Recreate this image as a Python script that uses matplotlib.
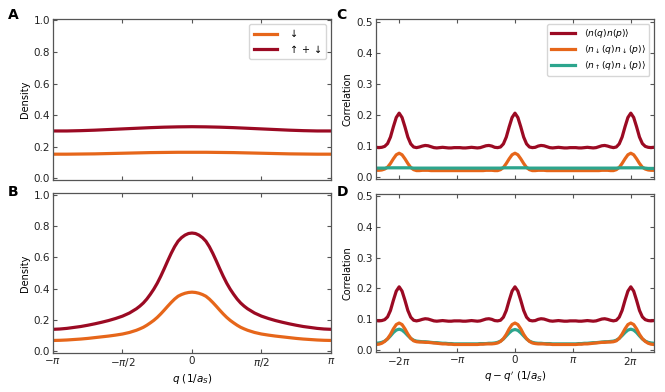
import numpy as np
import matplotlib
matplotlib.use("Agg")
import matplotlib.pyplot as plt

RED = "#9b0a23"
ORANGE = "#e6661a"
TEAL = "#2ca58d"

# ---- density panels (q in units of pi) ----
q_a = np.linspace(-1, 1, 21)
dens_a_down = [0.153, 0.153, 0.154, 0.155, 0.157, 0.159, 0.161, 0.163, 0.164, 0.165, 0.165,
               0.165, 0.164, 0.163, 0.161, 0.159, 0.157, 0.155, 0.154, 0.153, 0.153]
dens_a_total = [0.300, 0.300, 0.302, 0.305, 0.309, 0.313, 0.317, 0.321, 0.324, 0.326, 0.327,
                0.326, 0.324, 0.321, 0.317, 0.313, 0.309, 0.305, 0.302, 0.300, 0.300]

# finer sampling near the peak
q_b = np.concatenate([np.linspace(-1, -0.45, 12), np.linspace(-0.4, 0.4, 33),
                      np.linspace(0.45, 1, 12)])
dens_b_total = [0.141, 0.143, 0.147, 0.153, 0.159, 0.167, 0.176, 0.186, 0.197, 0.210,
                0.225, 0.245,
                0.272, 0.289, 0.309, 0.334, 0.364, 0.397, 0.435, 0.479, 0.527, 0.577,
                0.625, 0.668, 0.703, 0.726, 0.742, 0.752, 0.755, 0.752, 0.742, 0.726,
                0.703, 0.668, 0.625, 0.577, 0.527, 0.479, 0.435, 0.397, 0.364, 0.334,
                0.309, 0.289, 0.272,
                0.245, 0.225, 0.210, 0.197, 0.186, 0.176, 0.167, 0.159, 0.153, 0.147,
                0.143, 0.141]
dens_b_down = [0.070, 0.071, 0.073, 0.076, 0.079, 0.083, 0.088, 0.093, 0.098, 0.104,
               0.111, 0.121,
               0.135, 0.144, 0.154, 0.167, 0.182, 0.198, 0.217, 0.239, 0.263, 0.288,
               0.312, 0.334, 0.352, 0.363, 0.371, 0.376, 0.378, 0.376, 0.371, 0.363,
               0.352, 0.334, 0.312, 0.288, 0.263, 0.239, 0.217, 0.198, 0.182, 0.167,
               0.154, 0.144, 0.135,
               0.121, 0.111, 0.104, 0.098, 0.093, 0.088, 0.083, 0.079, 0.076, 0.073,
               0.071, 0.070]

# ---- correlation panels (q - q' in units of pi) ----
dq = np.linspace(-2.4, 2.4, 97)
corr_c_total = [0.095, 0.094, 0.095, 0.098, 0.107, 0.128, 0.161, 0.191, 0.205,
                0.191, 0.161, 0.128, 0.106, 0.096, 0.094, 0.096, 0.099, 0.101, 0.100, 0.097,
                0.094, 0.093, 0.094, 0.095, 0.094, 0.093, 0.093, 0.094, 0.094, 0.094,
                0.093, 0.093, 0.094, 0.095, 0.094, 0.093, 0.094, 0.097,
                0.100, 0.101, 0.099, 0.095, 0.094, 0.096, 0.106, 0.128, 0.161, 0.191, 0.205,
                0.191, 0.161, 0.128, 0.106, 0.096, 0.094, 0.095, 0.099, 0.101, 0.100,
                0.097, 0.094, 0.093, 0.094, 0.095, 0.094, 0.093, 0.093, 0.094, 0.094,
                0.094, 0.093, 0.093, 0.094, 0.095, 0.094, 0.093, 0.094, 0.097, 0.100,
                0.101, 0.099, 0.096, 0.094, 0.096, 0.106, 0.128, 0.161, 0.191, 0.205,
                0.191, 0.161, 0.128, 0.107, 0.098, 0.095, 0.094, 0.095]
corr_c_down = [0.021, 0.021, 0.022, 0.025, 0.031, 0.043, 0.058, 0.071, 0.076,
               0.071, 0.058, 0.043, 0.030, 0.023, 0.020, 0.020, 0.021, 0.021, 0.021, 0.020,
               0.020, 0.020, 0.020, 0.020, 0.020, 0.020, 0.020, 0.020, 0.020,
               0.020, 0.020, 0.020, 0.020, 0.020, 0.020, 0.020, 0.020, 0.020,
               0.021, 0.021, 0.021, 0.020, 0.020, 0.023, 0.030, 0.043, 0.058, 0.071, 0.076,
               0.071, 0.058, 0.043, 0.030, 0.023, 0.020, 0.020, 0.021, 0.021, 0.021,
               0.020, 0.020, 0.020, 0.020, 0.020, 0.020, 0.020, 0.020, 0.020,
               0.020, 0.020, 0.020, 0.020, 0.020, 0.020, 0.020, 0.020, 0.020,
               0.020, 0.021, 0.021, 0.021, 0.020, 0.020, 0.023, 0.030, 0.043, 0.058, 0.071,
               0.076, 0.071, 0.058, 0.043, 0.031, 0.025, 0.022, 0.021, 0.021]
corr_c_updown = [0.028, 0.028, 0.028, 0.028, 0.029, 0.029, 0.029, 0.029, 0.029,
                 0.029, 0.029, 0.029, 0.029, 0.028, 0.028, 0.028, 0.028, 0.028, 0.028, 0.028,
                 0.028, 0.028, 0.028, 0.028, 0.028, 0.028, 0.028, 0.028, 0.028,
                 0.028, 0.028, 0.028, 0.028, 0.028, 0.028, 0.028, 0.028, 0.028,
                 0.028, 0.028, 0.028, 0.028, 0.028, 0.028, 0.029, 0.029, 0.029, 0.029, 0.029,
                 0.029, 0.029, 0.029, 0.029, 0.028, 0.028, 0.028, 0.028, 0.028, 0.028,
                 0.028, 0.028, 0.028, 0.028, 0.028, 0.028, 0.028, 0.028, 0.028,
                 0.028, 0.028, 0.028, 0.028, 0.028, 0.028, 0.028, 0.028, 0.028,
                 0.028, 0.028, 0.028, 0.028, 0.028, 0.028, 0.028, 0.029, 0.029, 0.029, 0.029,
                 0.029, 0.029, 0.029, 0.029, 0.029, 0.028, 0.027, 0.027, 0.027]

corr_d_total = [0.095, 0.094, 0.095, 0.098, 0.107, 0.128, 0.161, 0.191, 0.205,
                0.191, 0.161, 0.128, 0.106, 0.096, 0.094, 0.096, 0.099, 0.101, 0.100, 0.097,
                0.094, 0.093, 0.094, 0.095, 0.094, 0.093, 0.093, 0.094, 0.094, 0.094,
                0.093, 0.093, 0.094, 0.095, 0.094, 0.093, 0.094, 0.097,
                0.100, 0.101, 0.099, 0.095, 0.094, 0.096, 0.106, 0.128, 0.161, 0.191, 0.205,
                0.191, 0.161, 0.128, 0.106, 0.096, 0.094, 0.095, 0.099, 0.101, 0.100,
                0.097, 0.094, 0.093, 0.094, 0.095, 0.094, 0.093, 0.093, 0.094, 0.094,
                0.094, 0.093, 0.093, 0.094, 0.095, 0.094, 0.093, 0.094, 0.097, 0.100,
                0.101, 0.099, 0.096, 0.094, 0.096, 0.106, 0.128, 0.161, 0.191, 0.205,
                0.191, 0.161, 0.128, 0.107, 0.098, 0.095, 0.094, 0.095]
corr_d_down = [0.017, 0.018, 0.021, 0.027, 0.036, 0.050, 0.068, 0.082, 0.087,
               0.082, 0.068, 0.051, 0.037, 0.029, 0.026, 0.025, 0.025, 0.024, 0.024, 0.023,
               0.022, 0.021, 0.020, 0.019, 0.019, 0.018, 0.018, 0.017, 0.017,
               0.017, 0.017, 0.017, 0.017, 0.017, 0.017, 0.017, 0.018, 0.018,
               0.019, 0.019, 0.019, 0.020, 0.022, 0.027, 0.036, 0.050, 0.068, 0.082, 0.087,
               0.082, 0.068, 0.050, 0.036, 0.027, 0.022, 0.020, 0.019, 0.019, 0.019,
               0.018, 0.018, 0.017, 0.017, 0.017, 0.017, 0.017, 0.017, 0.017,
               0.017, 0.017, 0.018, 0.018, 0.019, 0.019, 0.020, 0.021, 0.022,
               0.023, 0.024, 0.024, 0.025, 0.025, 0.026, 0.029, 0.037, 0.051, 0.068, 0.082,
               0.087, 0.082, 0.068, 0.050, 0.036, 0.027, 0.021, 0.018, 0.017]
corr_d_updown = [0.021, 0.022, 0.024, 0.028, 0.035, 0.045, 0.056, 0.064, 0.067,
                 0.064, 0.056, 0.046, 0.037, 0.031, 0.028, 0.027, 0.026, 0.026, 0.025, 0.024,
                 0.023, 0.023, 0.022, 0.021, 0.021, 0.020, 0.020, 0.019, 0.019,
                 0.019, 0.019, 0.019, 0.019, 0.019, 0.019, 0.019, 0.020, 0.020,
                 0.020, 0.021, 0.021, 0.022, 0.024, 0.028, 0.035, 0.045, 0.055, 0.063, 0.066,
                 0.063, 0.055, 0.045, 0.035, 0.028, 0.024, 0.022, 0.021, 0.021, 0.020,
                 0.020, 0.020, 0.019, 0.019, 0.019, 0.019, 0.019, 0.019, 0.019,
                 0.019, 0.019, 0.020, 0.020, 0.021, 0.021, 0.022, 0.023, 0.023,
                 0.024, 0.025, 0.026, 0.026, 0.027, 0.028, 0.031, 0.037, 0.046, 0.056, 0.064,
                 0.067, 0.064, 0.056, 0.045, 0.035, 0.028, 0.024, 0.022, 0.021]

LW = 2.3

plt.rcParams["font.size"] = 7.5
plt.rcParams["axes.edgecolor"] = "#555555"
plt.rcParams["xtick.color"] = "#555555"
plt.rcParams["ytick.color"] = "#555555"
plt.rcParams["xtick.labelcolor"] = "#222222"
plt.rcParams["ytick.labelcolor"] = "#222222"
plt.rcParams["lines.solid_joinstyle"] = "round"

fig = plt.figure(figsize=(6.65, 3.92), dpi=100)
ax_a = fig.add_axes([0.0797, 0.541, 0.418, 0.411])
ax_b = fig.add_axes([0.0797, 0.0995, 0.418, 0.408])
ax_c = fig.add_axes([0.5654, 0.543, 0.418, 0.408])
ax_d = fig.add_axes([0.5654, 0.102, 0.418, 0.403])


def style(ax):
    ax.tick_params(direction="in", top=True, right=True, length=3, width=0.8,
                   labelsize=7.5, pad=2)
    for s in ax.spines.values():
        s.set_linewidth(0.9)


# A
ax_a.plot(q_a * np.pi, dens_a_down, color=ORANGE, lw=LW, label=r"$\downarrow$")
ax_a.plot(q_a * np.pi, dens_a_total, color=RED, lw=LW, label=r"$\uparrow + \downarrow$")
# B
ax_b.plot(q_b * np.pi, dens_b_down, color=ORANGE, lw=LW)
ax_b.plot(q_b * np.pi, dens_b_total, color=RED, lw=LW)

pi_ticks = [-np.pi, -np.pi / 2, 0, np.pi / 2, np.pi]
pi_labels = [r"$-\pi$", r"$-\pi/2$", "0", r"$\pi/2$", r"$\pi$"]
for ax in (ax_a, ax_b):
    style(ax)
    ax.set_xlim(-np.pi, np.pi)
    ax.set_ylim(-0.01, 1.01)
    ax.set_xticks(pi_ticks)
    ax.set_yticks([0, 0.2, 0.4, 0.6, 0.8, 1.0])
    ax.set_ylabel("Density", fontsize=7, labelpad=3)
ax_a.set_xticklabels([])
ax_b.set_xticklabels(pi_labels)
ax_b.set_xlabel(r"$q\ (1/a_S)$", fontsize=7.5, labelpad=2)
ax_a.legend(loc="upper right", fontsize=7, handlelength=2.4, borderpad=0.45,
            labelspacing=0.45, handletextpad=1.1, edgecolor="#cccccc")

# C
ax_c.plot(dq * np.pi, corr_c_total, color=RED, lw=LW, label=r"$\langle n(q)n(p)\rangle$")
ax_c.plot(dq * np.pi, corr_c_down, color=ORANGE, lw=LW,
          label=r"$\langle n_\downarrow(q)n_\downarrow(p)\rangle$")
ax_c.plot(dq * np.pi, corr_c_updown, color=TEAL, lw=LW,
          label=r"$\langle n_\uparrow(q)n_\downarrow(p)\rangle$")
# D
ax_d.plot(dq * np.pi, corr_d_total, color=RED, lw=LW)
ax_d.plot(dq * np.pi, corr_d_updown, color=TEAL, lw=LW)
ax_d.plot(dq * np.pi, corr_d_down, color=ORANGE, lw=LW)

pi2_ticks = [-2 * np.pi, -np.pi, 0, np.pi, 2 * np.pi]
pi2_labels = [r"$-2\pi$", r"$-\pi$", "0", r"$\pi$", r"$2\pi$"]
for ax in (ax_c, ax_d):
    style(ax)
    ax.set_xlim(-2.4 * np.pi, 2.4 * np.pi)
    ax.set_ylim(-0.0075, 0.5075)
    ax.set_xticks(pi2_ticks)
    ax.set_yticks([0, 0.1, 0.2, 0.3, 0.4, 0.5])
    ax.set_ylabel("Correlation", fontsize=7, labelpad=3)
ax_c.set_xticklabels([])
ax_d.set_xticklabels(pi2_labels)
ax_d.set_xlabel(r"$q - q'\ (1/a_S)$", fontsize=7.5, labelpad=2)
ax_c.legend(loc="upper right", fontsize=6.6, handlelength=2.6, borderpad=0.4,
            labelspacing=0.3, handletextpad=1.0, edgecolor="#cccccc")

for lab, x, y in [("A", 0.012, 0.962), ("B", 0.012, 0.51), ("C", 0.506, 0.962), ("D", 0.506, 0.51)]:
    fig.text(x, y, lab, fontsize=10, fontweight="bold", ha="left", va="center")

fig.savefig("out.png", dpi=100)
